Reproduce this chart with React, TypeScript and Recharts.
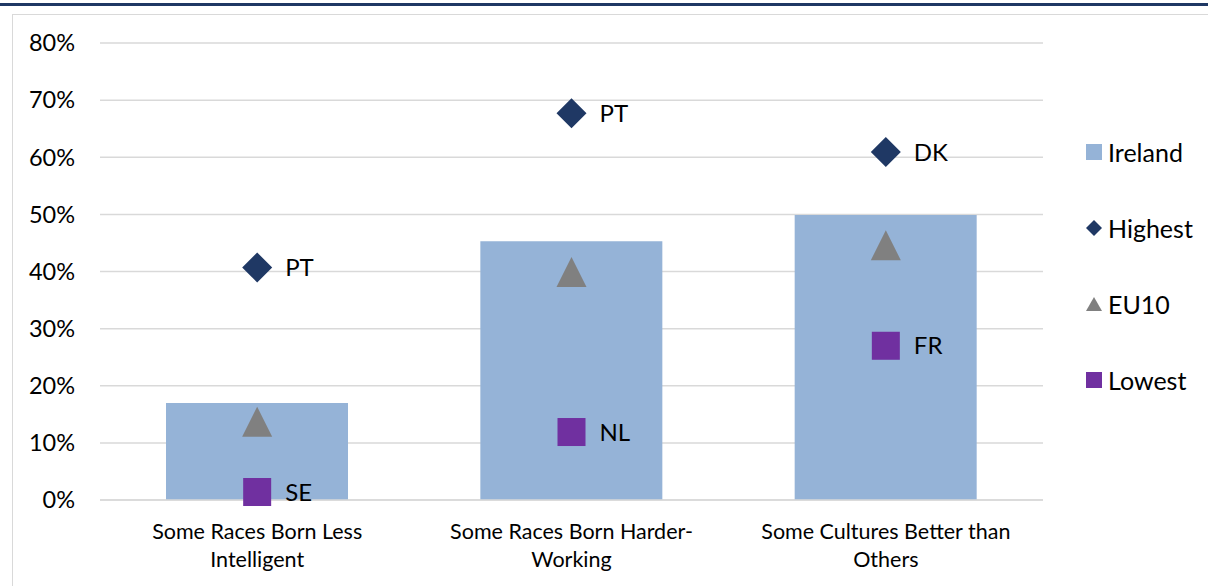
import React from 'react';
import { ComposedChart, Bar, Line, XAxis, YAxis, CartesianGrid, LabelList } from 'recharts';

const categories = [
  'Some Races Born Less Intelligent',
  'Some Races Born Harder-Working',
  'Some Cultures Better than Others',
];
const categoryLines = [
  ['Some Races Born Less', 'Intelligent'],
  ['Some Races Born Harder-', 'Working'],
  ['Some Cultures Better than', 'Others'],
];
const ireland = [0.17, 0.453, 0.499];
const highest = [0.407, 0.677, 0.609];
const highestCountry = ['PT', 'PT', 'DK'];
const eu10 = [0.137, 0.399, 0.446];
const lowest = [0.014, 0.119, 0.27];
const lowestCountry = ['SE', 'NL', 'FR'];
const yTicks = [0, 0.1, 0.2, 0.3, 0.4, 0.5, 0.6, 0.7, 0.8];

const FONT = 'Lato, "Liberation Sans", sans-serif';
const NAVY = '#1f3864';
const BLUE = '#95b3d7';
const GREY = '#808080';
const PURPLE = '#7030a0';

const data = categories.map((c, i) => ({
  name: c,
  ireland: ireland[i],
  highest: highest[i],
  highestLbl: highestCountry[i],
  eu10: eu10[i],
  lowest: lowest[i],
  lowestLbl: lowestCountry[i],
}));

const Diamond = (p: any) => {
  const { cx, cy, key } = p;
  if (cx == null || cy == null) return <g key={key} />;
  const r = 15;
  return <path key={key} d={`M${cx},${cy - r}L${cx + r},${cy}L${cx},${cy + r}L${cx - r},${cy}Z`} fill={NAVY} />;
};

const Triangle = (p: any) => {
  const { cx, cy, key } = p;
  if (cx == null || cy == null) return <g key={key} />;
  const h = 30;
  const w = 30;
  return <path key={key} d={`M${cx},${cy - h / 2}L${cx + w / 2},${cy + h / 2}L${cx - w / 2},${cy + h / 2}Z`} fill={GREY} />;
};

const Square = (p: any) => {
  const { cx, cy, key } = p;
  if (cx == null || cy == null) return <g key={key} />;
  const s = 28;
  return <rect key={key} x={cx - s / 2} y={cy - s / 2} width={s} height={s} fill={PURPLE} />;
};

const XTick = (props: any) => {
  const { x, y, index } = props;
  const lines = categoryLines[index] || [];
  return (
    <g transform={`translate(${x},${y})`}>
      {lines.map((l, i) => (
        <text key={i} x={0} y={i * 28} dy={31} textAnchor="middle" fill="#000" fontSize={21.5} fontFamily={FONT}>
          {l}
        </text>
      ))}
    </g>
  );
};

const legendItems = [
  { name: 'Ireland', kind: 'rect', color: BLUE },
  { name: 'Highest', kind: 'diamond', color: NAVY },
  { name: 'EU10', kind: 'triangle', color: GREY },
  { name: 'Lowest', kind: 'rect', color: PURPLE },
];

const LegendIcon = ({ kind, color }: { kind: string; color: string }) => (
  <svg width={16} height={16} style={{ display: 'block' }}>
    {kind === 'rect' && <rect x={0} y={0} width={16} height={16} fill={color} />}
    {kind === 'diamond' && <path d="M8,0L16,8L8,16L0,8Z" fill={color} />}
    {kind === 'triangle' && <path d="M8,1L16,15L0,15Z" fill={color} />}
  </svg>
);

export default function App() {
  return (
    <div style={{ position: 'absolute', left: 0, top: 0, width: 1208, height: 586, background: '#fff', overflow: 'hidden' }}>
      <div style={{ position: 'absolute', left: 0, top: 3, width: 1208, height: 3, background: NAVY }} />
      <div style={{ position: 'absolute', left: 12, top: 14, width: 1220, height: 620, border: '1px solid #d9d9d9' }} />
      <div style={{ position: 'absolute', left: 0, top: 0 }}>
        <ComposedChart
          width={1208}
          height={586}
          data={data}
          margin={{ top: 43, right: 165, bottom: 16, left: 40 }}
          barCategoryGap="21%"
        >
          <CartesianGrid vertical={false} stroke="#d9d9d9" strokeWidth={1.5} />
          <XAxis
            dataKey="name"
            axisLine={{ stroke: '#d9d9d9', strokeWidth: 1.5 }}
            tickLine={false}
            height={70}
            interval={0}
            tick={<XTick />}
          />
          <YAxis
            domain={[0, 0.8]}
            ticks={yTicks}
            width={60}
            axisLine={false}
            tickLine={false}
            tickMargin={19}
            tickFormatter={(v: number) => `${Math.round(v * 100)}%`}
            tick={{ fill: '#000', fontSize: 23.5, fontFamily: FONT }}
          />
          <Bar dataKey="ireland" fill={BLUE} isAnimationActive={false} />
          <Line dataKey="highest" stroke="none" dot={Diamond} activeDot={false} isAnimationActive={false}>
            <LabelList dataKey="highestLbl" position="right" offset={28} fill="#000" fontSize={24} fontFamily={FONT} />
          </Line>
          <Line dataKey="eu10" stroke="none" dot={Triangle} activeDot={false} isAnimationActive={false} />
          <Line dataKey="lowest" stroke="none" dot={Square} activeDot={false} isAnimationActive={false}>
            <LabelList dataKey="lowestLbl" position="right" offset={28} fill="#000" fontSize={24} fontFamily={FONT} />
          </Line>
        </ComposedChart>
      </div>
      <div style={{ position: 'absolute', left: 1086, top: 137, fontFamily: FONT, fontSize: 25, color: '#000' }}>
        {legendItems.map((it) => (
          <div key={it.name} style={{ display: 'flex', alignItems: 'center', height: 30, marginBottom: 46 }}>
            <LegendIcon kind={it.kind} color={it.color} />
            <span style={{ marginLeft: 6 }}>{it.name}</span>
          </div>
        ))}
      </div>
    </div>
  );
}
